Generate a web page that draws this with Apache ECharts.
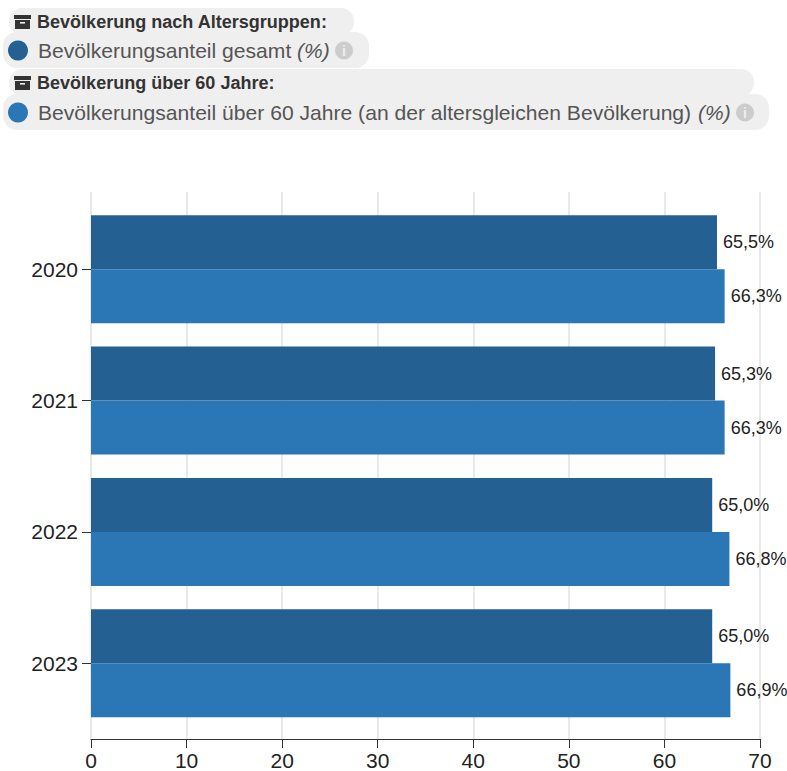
<!DOCTYPE html>
<html><head><meta charset="utf-8">
<style>html,body{margin:0;padding:0;background:#fff}#c{width:787px;height:771px}</style>
<script src="https://cdn.jsdelivr.net/npm/echarts@6/dist/echarts.min.js"></script>
</head><body><div id="c"></div>
<script>
const years = ['2020','2021','2022','2023'];
const gesamt = [65.5,65.3,65.0,65.0];
const ueber60 = [66.3,66.3,66.8,66.9];
const seriesNames = ['Bevölkerungsanteil gesamt','Bevölkerungsanteil über 60 Jahre (an der altersgleichen Bevölkerung)'];
const groupNames = ['Bevölkerung nach Altersgruppen:','Bevölkerung über 60 Jahre:'];
const unit = '(%)';
const C1='#246091', C2='#2b76b4', BG='#efefef';
const F='"Liberation Sans",Arial,sans-serif';
const chart = echarts.init(document.getElementById('c'),null,{renderer:'svg'});
const fmt = p => p.value.toFixed(1).replace('.',',')+'%';
const bar=(name,data,color)=>({type:'bar',name,data,xAxisIndex:1,yAxisIndex:1,barWidth:54,barGap:'0%',
  itemStyle:{color},label:{show:true,position:'right',distance:6,formatter:fmt,color:'#222',fontSize:18,fontFamily:F}});
function legendRow(y1,y2,w1,w2,group,name,color,textW){
  const out=[];
  out.push({type:'rect',shape:{x:9,y:y1,width:w1,height:27,r:13},style:{fill:BG},silent:true});
  out.push({type:'rect',shape:{x:3,y:y2,width:w2,height:36,r:14},style:{fill:BG},silent:true});
  const ix=14, iy=y1+6;
  out.push({type:'rect',shape:{x:ix,y:iy+1,width:17,height:4},style:{fill:'#333'},silent:true});
  out.push({type:'rect',shape:{x:ix+1,y:iy+6,width:15,height:9},style:{fill:'#333'},silent:true});
  out.push({type:'rect',shape:{x:ix+6,y:iy+8,width:5,height:1.6},style:{fill:BG},silent:true});
  out.push({type:'text',style:{x:37,y:y1+13.5,text:group,font:'bold 18.05px '+F,fill:'#333',verticalAlign:'middle'},silent:true});
  out.push({type:'circle',shape:{cx:18,cy:y2+18.5,r:10},style:{fill:color},silent:true});
  out.push({type:'text',style:{x:38,y:y2+18.5,text:name,font:'21.1px '+F,fill:'#555',verticalAlign:'middle'},silent:true});
  out.push({type:'text',style:{x:textW,y:y2+18.5,text:unit,font:'italic 21px '+F,fill:'#555',verticalAlign:'middle'},silent:true});
  out.push({type:'circle',shape:{cx:textW+47,cy:y2+18.5,r:9},style:{fill:'#ccc'},silent:true});
  out.push({type:'text',style:{x:textW+47,y:y2+18.5,text:'i',font:'bold 14px '+F,fill:'#efefef',align:'center',verticalAlign:'middle'},silent:true});
  return out;
}
chart.setOption({
  animation:false,
  grid:[
    {left:91,width:669,top:192,height:548},
    {left:91,width:669,top:203.5,height:525.5}
  ],
  xAxis:[
    {gridIndex:0,type:'value',min:0,max:70,interval:10,position:'bottom',
      axisLine:{show:true,lineStyle:{color:'#333',width:1}},
      axisTick:{show:true,length:9,lineStyle:{color:'#333'}},
      axisLabel:{color:'#222',fontSize:21,fontFamily:F,margin:11,hideOverlap:false},
      splitLine:{show:true,lineStyle:{color:'#e2e2e2',width:1.5}}},
    {gridIndex:1,type:'value',min:0,max:70,interval:10,show:false}
  ],
  yAxis:[
    {gridIndex:0,type:'value',min:0,max:1,show:false},
    {gridIndex:1,type:'category',data:years,inverse:true,
      axisLine:{show:false},
      axisTick:{show:true,alignWithLabel:true,length:9,lineStyle:{color:'#333'}},
      axisLabel:{color:'#222',fontSize:21,fontFamily:F,margin:13}}
  ],
  series:[bar(seriesNames[0],gesamt,C1),bar(seriesNames[1],ueber60,C2)],
  graphic:[...legendRow(8,32,345,366,groupNames[0],seriesNames[0],C1,297),
           ...legendRow(69,94,745,766,groupNames[1],seriesNames[1],C2,698)]
});
</script></body></html>
